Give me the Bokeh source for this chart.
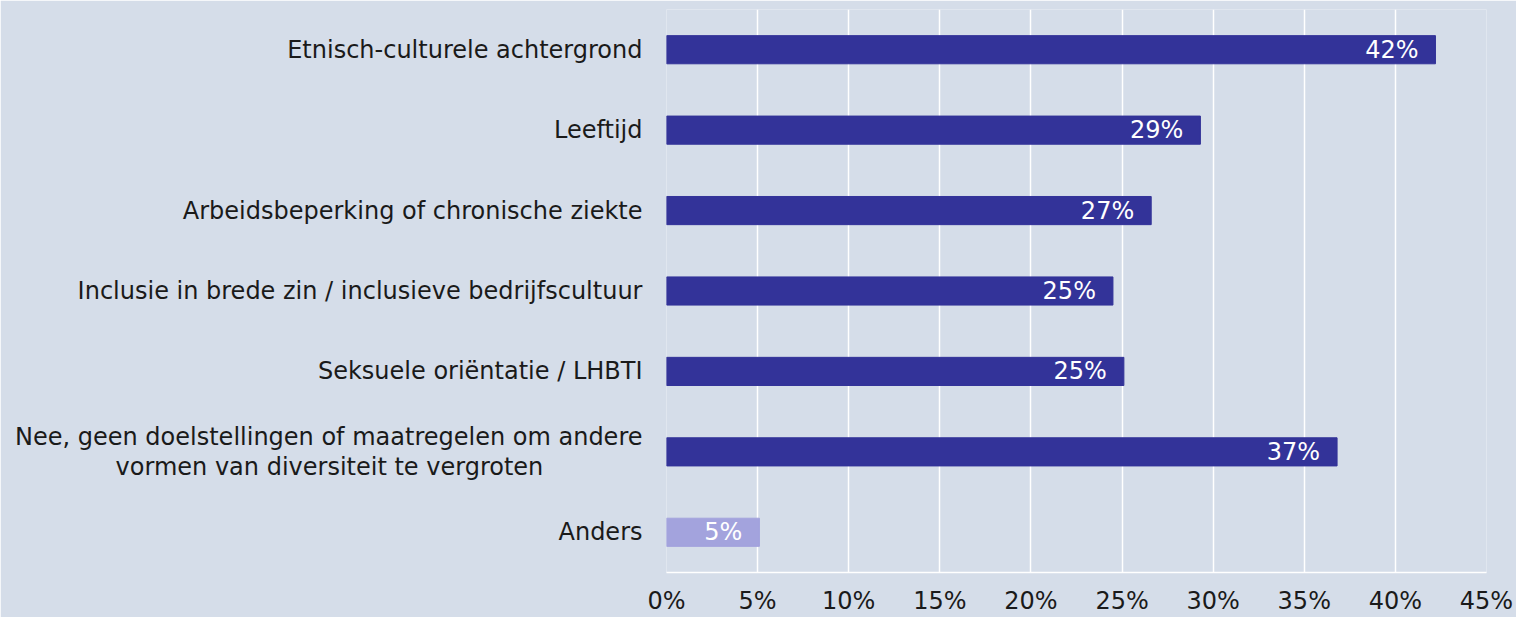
from bokeh.plotting import figure
from bokeh.models import FactorRange, Range1d, FixedTicker, PrintfTickFormatter, ColumnDataSource, LabelSet
from bokeh.core.properties import value
from bokeh.embed import file_html
from bokeh.resources import INLINE

categories = [
    "Etnisch-culturele achtergrond",
    "Leeftijd",
    "Arbeidsbeperking of chronische ziekte",
    "Inclusie in brede zin / inclusieve bedrijfscultuur",
    "Seksuele oriëntatie / LHBTI",
    "Nee, geen doelstellingen of maatregelen om andere\nvormen van diversiteit te vergroten" + "\u00a0" * 13,
    "Anders",
]
values = [42.2, 29.3, 26.6, 24.5, 25.1, 36.8, 5.1]
value_labels = ["42%", "29%", "27%", "25%", "25%", "37%", "5%"]
bar_colors = ["#333399", "#333399", "#333399", "#333399", "#333399", "#333399", "#a3a3dd"]
x_ticks = [0, 5, 10, 15, 20, 25, 30, 35, 40, 45]

BG = "#d5dde9"
FONT = "DejaVu Sans"
FS = "24px"

src = ColumnDataSource(dict(cat=categories, val=values, lab=value_labels, col=bar_colors))

p = figure(
    width=1516, height=617,
    y_range=FactorRange(*reversed(categories)),
    x_range=Range1d(0, 45),
    output_backend="svg", toolbar_location=None,
    background_fill_color=BG, border_fill_color=BG,
    min_border_left=666, min_border_right=30, min_border_top=9, min_border_bottom=45,
)
p.outline_line_color = None

p.hbar(y="cat", right="val", left=0, height=0.35, source=src,
       fill_color="col", line_color="col", line_width=1)

labels = LabelSet(x="val", y="cat", text="lab", source=src, x_offset=-17,
                  text_align="right", text_baseline="middle",
                  text_color="white", text_font=value(FONT), text_font_size=value(FS))
p.add_layout(labels)

p.xaxis.ticker = FixedTicker(ticks=x_ticks)
p.xaxis.formatter = PrintfTickFormatter(format="%d%%")
p.xaxis.axis_line_color = "white"
p.xaxis.axis_line_width = 1.5
p.xaxis.major_tick_line_color = None
p.xaxis.minor_tick_line_color = None
p.xaxis.major_label_standoff = 8
p.xaxis.major_label_text_font = FONT
p.xaxis.major_label_text_font_size = FS
p.xaxis.major_label_text_color = "#1a1a1a"

p.yaxis.axis_line_color = None
p.yaxis.major_tick_line_color = None
p.yaxis.minor_tick_line_color = None
p.yaxis.major_label_standoff = 18
p.yaxis.major_label_text_font = FONT
p.yaxis.major_label_text_font_size = FS
p.yaxis.major_label_text_color = "#1a1a1a"
p.yaxis.major_label_text_line_height = 1.05

p.xgrid.grid_line_color = "white"
p.xgrid.grid_line_width = 1.5
p.ygrid.grid_line_color = None

html = file_html(p, INLINE)
open("out.html", "w").write(html)
